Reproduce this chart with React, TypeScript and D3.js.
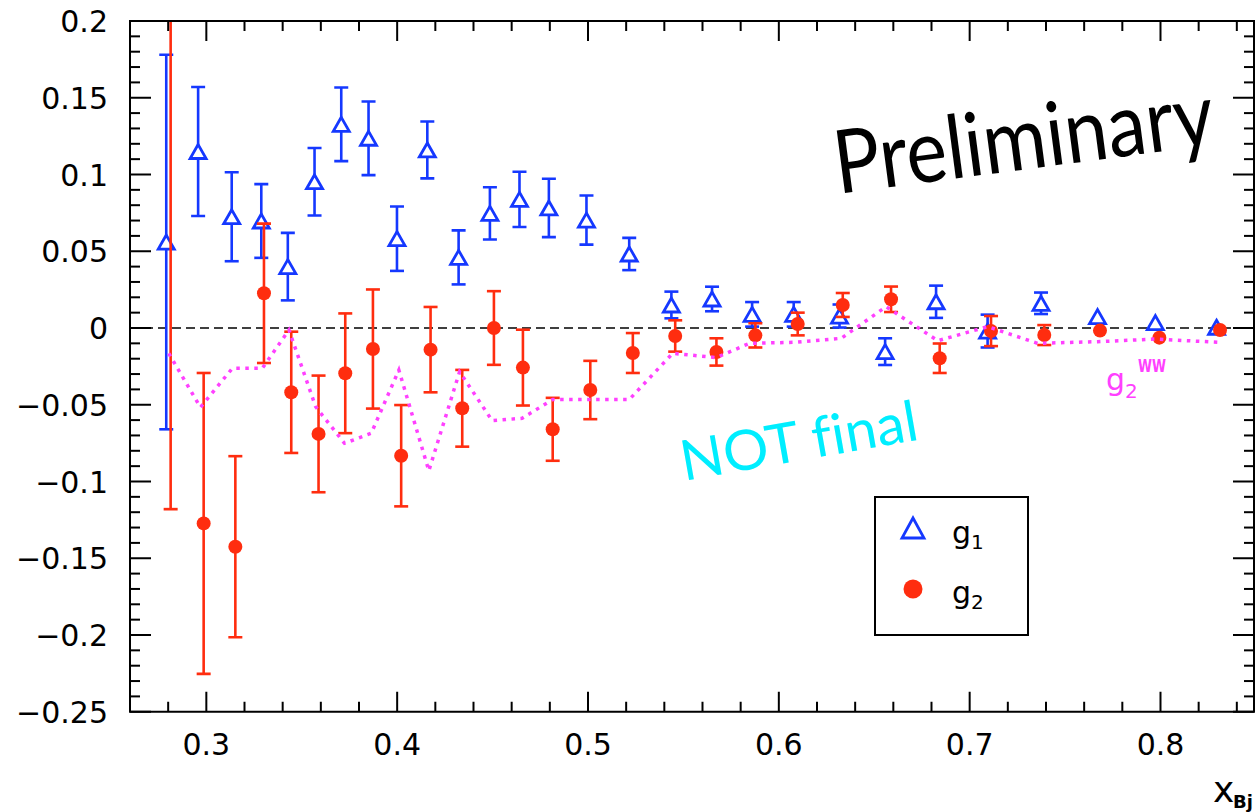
import React, { useEffect } from "react";
import * as d3 from "d3";

// g1 measurements (open blue triangles)
const g1X = [0.279, 0.2957, 0.3133, 0.3288, 0.3427, 0.3567, 0.3707, 0.385, 0.3999, 0.4158, 0.4322, 0.4486, 0.4641, 0.4795, 0.4992, 0.5216, 0.5437, 0.565, 0.586, 0.6078, 0.6318, 0.6557, 0.6824, 0.7094, 0.7374, 0.767, 0.7973, 0.8294];
const g1Y = [0.056, 0.115, 0.0725, 0.0697, 0.04, 0.0953, 0.1327, 0.1236, 0.0582, 0.116, 0.046, 0.0747, 0.0838, 0.0782, 0.0703, 0.0482, 0.015, 0.0189, 0.0089, 0.0089, 0.0078, -0.0154, 0.0171, -0.002, 0.0161, 0.0074, 0.0035, 0.0005];
const g1Err = [0.122, 0.042, 0.029, 0.024, 0.022, 0.022, 0.024, 0.024, 0.021, 0.0185, 0.0176, 0.017, 0.018, 0.019, 0.016, 0.0105, 0.0087, 0.008, 0.008, 0.008, 0.0075, 0.0087, 0.0105, 0.0107, 0.007, 0.003, 0.002, 0.002];

// g2 measurements (filled red circles)
const g2X = [0.2813, 0.2986, 0.3152, 0.3302, 0.3445, 0.3588, 0.3728, 0.3873, 0.4021, 0.4175, 0.4341, 0.4507, 0.4659, 0.4815, 0.5012, 0.5235, 0.5457, 0.5673, 0.5877, 0.6099, 0.6335, 0.6588, 0.6843, 0.7112, 0.7391, 0.7683, 0.7994, 0.8312];
const g2Y = [0.24, -0.1273, -0.1425, 0.0226, -0.0419, -0.069, -0.0295, -0.0137, -0.0832, -0.0141, -0.0523, 0.0, -0.0258, -0.066, -0.0404, -0.0163, -0.0052, -0.0156, -0.0048, 0.0026, 0.015, 0.0187, -0.0197, -0.002, -0.0046, -0.0017, -0.0063, -0.0013];
const g2Err = [0.358, 0.098, 0.059, 0.0454, 0.0395, 0.038, 0.039, 0.0388, 0.033, 0.0278, 0.025, 0.024, 0.0247, 0.0205, 0.019, 0.013, 0.0102, 0.0089, 0.0079, 0.0074, 0.0078, 0.0083, 0.0096, 0.0098, 0.0065, 0.003, 0.003, 0.003];

// Wandzura-Wilczek g2 curve
const wwX = [0.2803, 0.2969, 0.3136, 0.3293, 0.3433, 0.3573, 0.3724, 0.3864, 0.4009, 0.4166, 0.4327, 0.4498, 0.4655, 0.4816, 0.5012, 0.5217, 0.5444, 0.5672, 0.5846, 0.6091, 0.6327, 0.6562, 0.6833, 0.7094, 0.7356, 0.767, 0.7976, 0.8299];
const wwY = [-0.0165, -0.0517, -0.0263, -0.0263, -0.0013, -0.0513, -0.0751, -0.0686, -0.0274, -0.093, -0.0285, -0.0604, -0.0588, -0.0465, -0.0465, -0.0465, -0.0165, -0.0193, -0.01, -0.0093, -0.0067, 0.0139, -0.0083, 0.0009, -0.01, -0.0089, -0.0072, -0.0093];

// axis ticks
const xMajorTicks = [0.3, 0.4, 0.5, 0.6, 0.7, 0.8];
const xTickLabels = ["0.3", "0.4", "0.5", "0.6", "0.7", "0.8"];
const yMajorTicks = [0.2, 0.15, 0.1, 0.05, 0, -0.05, -0.1, -0.15, -0.2, -0.25];
const yTickLabels = ["0.2", "0.15", "0.1", "0.05", "0", "\u22120.05", "\u22120.1", "\u22120.15", "\u22120.2", "\u22120.25"];

const W = 1257;
const H = 812;
const L = 130, R = 1254, T = 21, B = 711.75;

const BLUE = "#1538ff";
const RED = "#ff2d0f";
const MAGENTA = "#ff40ff";
const CYAN = "#00eeff";
const FONT = "'DejaVu Sans', sans-serif";
const DISPLAY_FONT = "Lato, 'Open Sans', sans-serif";

export default function App() {
  useEffect(() => {
    document.body.style.margin = "0";
  }, []);

  const x = d3.scaleLinear().domain([0.26, 0.849]).range([L, R]);
  const y = d3.scaleLinear().domain([-0.25, 0.2]).range([B, T]);

  const xMinor = d3.range(14, 43).map((i) => ({ v: i * 0.02, major: i % 5 === 0 }));
  const yMinor = d3.range(-25, 21).map((i) => ({ v: i * 0.01, major: i % 5 === 0 }));

  const wwLine = d3
    .line<number>()
    .x((_, i) => x(wwX[i]))
    .y((d) => y(d))(wwY) as string;

  const cap = 7;
  const triHalfW = 8;
  const triHalfH = 7;
  const circR = 7;

  const errBar = (cx: number, v: number, e: number, color: string, minPx: number, key: string) => {
    const yt = y(v + e);
    const yb = y(v - e);
    if (yb - yt < 2 * minPx) return null;
    return (
      <g key={key} stroke={color} strokeWidth={2.6} fill="none">
        <line x1={cx} x2={cx} y1={yt} y2={yb} />
        <line x1={cx - cap} x2={cx + cap} y1={yt} y2={yt} />
        <line x1={cx - cap} x2={cx + cap} y1={yb} y2={yb} />
      </g>
    );
  };

  const triPath = (cx: number, cy: number, hw: number, hh: number) =>
    `M${cx},${cy - hh}L${cx - hw},${cy + hh}L${cx + hw},${cy + hh}Z`;

  const noLig = { fontVariantLigatures: "none" } as React.CSSProperties;

  return (
    <svg width={W} height={H} style={{ display: "block", background: "#fff" }}>
      <defs>
        <clipPath id="frame">
          <rect x={L} y={T} width={R - L} height={B - T} />
        </clipPath>
      </defs>

      {/* zero reference */}
      <line x1={L} x2={R} y1={y(0)} y2={y(0)} stroke="#000" strokeWidth={1.6} strokeDasharray="9 5" />

      <g clipPath="url(#frame)">
        {/* g1 */}
        {g1Y.map((v, i) => errBar(x(g1X[i]), v, g1Err[i], BLUE, triHalfH, `e1-${i}`))}
        {g1Y.map((v, i) => (
          <path key={`t-${i}`} d={triPath(x(g1X[i]), y(v), triHalfW, triHalfH)} fill="#fff" stroke={BLUE} strokeWidth={2.8} strokeLinejoin="miter" />
        ))}
        {/* g2 */}
        {g2Y.map((v, i) => errBar(x(g2X[i]), v, g2Err[i], RED, circR, `e2-${i}`))}
        {g2Y.map((v, i) => (
          <circle key={`c-${i}`} cx={x(g2X[i])} cy={y(v)} r={circR} fill={RED} />
        ))}
        {/* g2 WW */}
        <path d={wwLine} fill="none" stroke={MAGENTA} strokeWidth={3.5} strokeDasharray="3.5 5.5" />
      </g>

      {/* frame */}
      <rect x={L} y={T} width={R - L} height={B - T} fill="none" stroke="#000" strokeWidth={2} />

      {/* x ticks, bottom and top */}
      {xMinor.map((t, i) => {
        const px = x(t.v);
        const len = t.major ? 20 : 10;
        return (
          <g key={`xt-${i}`} stroke="#000" strokeWidth={2}>
            <line x1={px} x2={px} y1={B} y2={B - len} />
            <line x1={px} x2={px} y1={T} y2={T + len} />
          </g>
        );
      })}
      {/* y ticks, left and right */}
      {yMinor.map((t, i) => {
        const py = y(t.v);
        const len = t.major ? 21 : 10;
        return (
          <g key={`yt-${i}`} stroke="#000" strokeWidth={2}>
            <line x1={L} x2={L + len} y1={py} y2={py} />
            <line x1={R} x2={R - len} y1={py} y2={py} />
          </g>
        );
      })}

      {/* tick labels */}
      {xMajorTicks.map((v, i) => (
        <text key={`xl-${i}`} x={x(v)} y={755} textAnchor="middle" fontFamily={FONT} fontSize={30} fill="#000">
          {xTickLabels[i]}
        </text>
      ))}
      {yMajorTicks.map((v, i) => (
        <text key={`yl-${i}`} x={108} y={y(v) + 11} textAnchor="end" fontFamily={FONT} fontSize={30} fill="#000">
          {yTickLabels[i]}
        </text>
      ))}

      {/* x axis title */}
      <text x={1213} y={802} fontFamily={FONT} fontSize={36} fill="#000">x</text>
      <text x={1233} y={808} fontFamily={FONT} fontSize={18} fontWeight="bold" fill="#000">Bj</text>

      {/* annotations */}
      <g transform="translate(838,194) rotate(-7.5) scale(1,1.13)">
        <text
          x={0}
          y={0}
          fontFamily={DISPLAY_FONT}
          fontSize={78}
          textLength={382}
          lengthAdjust="spacingAndGlyphs"
          fill="#000"
          style={noLig}
        >
          Preliminary
        </text>
      </g>
      <g transform="translate(684,481) rotate(-10)">
        <text
          x={0}
          y={0}
          fontFamily={DISPLAY_FONT}
          fontSize={56}
          textLength={240}
          lengthAdjust="spacingAndGlyphs"
          fill={CYAN}
          style={noLig}
        >
          NOT final
        </text>
      </g>

      {/* g2^WW label */}
      <text x={1106} y={390} fontFamily={FONT} fontSize={30} fill={MAGENTA}>g</text>
      <text x={1125} y={398} fontFamily={FONT} fontSize={20} fill={MAGENTA}>2</text>
      <text x={1138} y={372} fontFamily={FONT} fontSize={17} fontWeight="bold" textLength={28} lengthAdjust="spacingAndGlyphs" fill={MAGENTA}>WW</text>

      {/* legend */}
      <rect x={875} y={497} width={153} height={138} fill="#fff" stroke="#000" strokeWidth={2} />
      <path d={triPath(913, 528, 11, 10)} fill="#fff" stroke={BLUE} strokeWidth={2.8} />
      <text x={952} y={543} fontFamily={FONT} fontSize={30} fill="#000">g</text>
      <text x={971} y={549} fontFamily={FONT} fontSize={20} fill="#000">1</text>
      <circle cx={913} cy={589} r={9.5} fill={RED} />
      <text x={952} y={603} fontFamily={FONT} fontSize={30} fill="#000">g</text>
      <text x={971} y={609} fontFamily={FONT} fontSize={20} fill="#000">2</text>
    </svg>
  );
}
